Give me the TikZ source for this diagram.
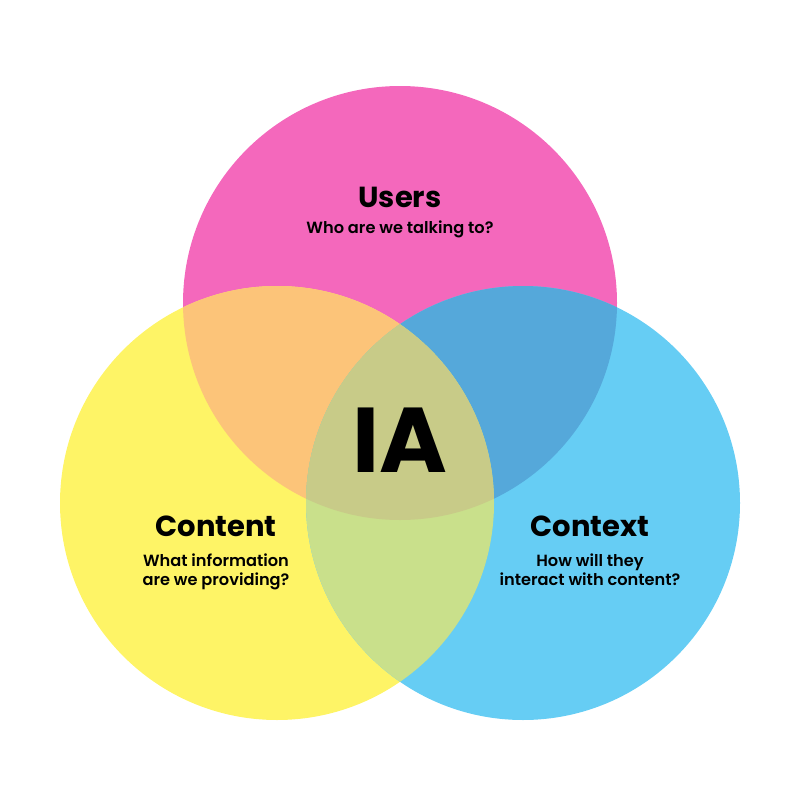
\documentclass[tikz,border=0pt]{standalone}
\usepackage{fontspec}
\setmainfont{Poppins}[BoldFont=* Bold]
\newfontfamily\popmed{Poppins SemiBold}
\definecolor{cpink}{HTML}{F468BC}
\definecolor{cyellow}{HTML}{FEF466}
\definecolor{cblue}{HTML}{66CDF4}
\definecolor{corange}{HTML}{FCC479}
\definecolor{cpb}{HTML}{55A8DA}
\definecolor{cyb}{HTML}{C9E08B}
\definecolor{call}{HTML}{C8CB88}
\tikzset{
  title/.style={anchor=base, inner sep=0pt, font=\bfseries\fontsize{29}{32}\selectfont},
  sub/.style={anchor=base, inner sep=0pt, font=\popmed\fontsize{16.2}{20}\selectfont},
  big/.style={anchor=base, inner sep=0pt, font=\bfseries\fontsize{92}{96}\selectfont},
}
\begin{document}
\begin{tikzpicture}[x=1pt,y=-1pt]
\useasboundingbox (0,0) rectangle (800,800);
\def\R{217}
\def\Pc{(400,303) circle[radius=\R]}
\def\Yc{(277,503) circle[radius=\R]}
\def\Bc{(523,503) circle[radius=\R]}
\fill[cpink] \Pc;
\fill[cyellow] \Yc;
\fill[cblue] \Bc;
\begin{scope}\clip \Pc; \fill[corange] \Yc; \end{scope}
\begin{scope}\clip \Pc; \fill[cpb] \Bc; \end{scope}
\begin{scope}\clip \Yc; \fill[cyb] \Bc; \end{scope}
\begin{scope}\clip \Pc; \clip \Yc; \fill[call] \Bc; \end{scope}
\node[title] (users) at (400,207) {Users};
\node[sub] (users1) at (400,233) {Who are we talking to?};
\node[title] (content) at (216,536) {Content};
\node[sub] (content1) at (216,566) {What information};
\node[sub] (content2) at (216,585) {are we providing?};
\node[title] (context) at (590,536) {Context};
\node[sub] (context1) at (590,566) {How will they};
\node[sub] (context2) at (590,585) {interact with content?};
\node[big] (ia) at (400,472) {IA};
\end{tikzpicture}
\end{document}
